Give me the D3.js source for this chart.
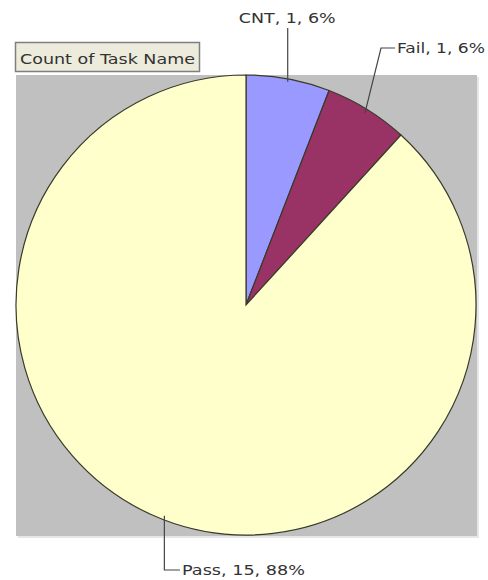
<!DOCTYPE html>
<html><head><meta charset="utf-8">
<script src="https://cdn.jsdelivr.net/npm/d3@7"></script>
<style>body{margin:0;background:#fff}svg{display:block}</style>
</head><body>
<svg id="c" width="488" height="580"></svg>
<script>
const categories = ["CNT", "Fail", "Pass"];
const values = [1, 1, 15];
const percentLabels = ["6%", "6%", "88%"];
const colors = ["#9999ff", "#993366", "#ffffcc"];
const legendTitle = "Count of Task Name";

const svg = d3.select("#c");
const font = "'DejaVu Sans', Verdana, sans-serif";

// plot area
svg.append("rect").attr("x", 18).attr("y", 77).attr("width", 461).attr("height", 461).attr("fill", "#e6e6e6");
svg.append("rect").attr("x", 16).attr("y", 75).attr("width", 461).attr("height", 461).attr("fill", "#c0c0c0");

// title box
svg.append("rect").attr("x", 15.5).attr("y", 42.5).attr("width", 184).attr("height", 29)
  .attr("fill", "#ecebdc").attr("stroke", "#7f7f7f").attr("stroke-width", 1.5);
svg.append("text").attr("x", 20).attr("y", 64).attr("font-family", font).attr("font-size", 14)
  .attr("fill", "#333").attr("textLength", 175).attr("lengthAdjust", "spacingAndGlyphs").text(legendTitle);

const cx = 246, cy = 305, R = 230;
const pie = d3.pie().sort(null).value(d => d)(values);
const arc = d3.arc().innerRadius(0).outerRadius(R);
const g = svg.append("g").attr("transform", `translate(${cx},${cy})`);
g.selectAll("path").data(pie).join("path")
  .attr("d", arc).attr("fill", (d, i) => colors[i])
  .attr("stroke", "#3a3a2a").attr("stroke-width", 1.2);

// labels with leader lines
const pt = (a, r) => [cx + r * Math.sin(a), cy - r * Math.cos(a)];
const mid = d => (d.startAngle + d.endAngle) / 2;
const labels = categories.map((c, i) => `${c}, ${values[i]}, ${percentLabels[i]}`);
const lines = svg.append("g").attr("fill", "none").attr("stroke", "#444").attr("stroke-width", 1.2);
const txt = svg.append("g").attr("font-family", font).attr("font-size", 14).attr("fill", "#333");

// CNT
{
  const p = pt(mid(pie[0]), R - 3);
  lines.append("path").attr("d", `M${p[0]},${p[1]}L${p[0]},28`);
  txt.append("text").attr("x", p[0] - 49).attr("y", 23)
    .attr("textLength", 97).attr("lengthAdjust", "spacingAndGlyphs").text(labels[0]);
}
// Fail
{
  const p = pt(mid(pie[1]), R - 4);
  lines.append("path").attr("d", `M${p[0]},${p[1]}L381,48L395,48`);
  txt.append("text").attr("x", 397).attr("y", 53)
    .attr("textLength", 88).attr("lengthAdjust", "spacingAndGlyphs").text(labels[1]);
}
// Pass
{
  const p = pt(mid(pie[2]), R - 4);
  lines.append("path").attr("d", `M${p[0]},${p[1]}L${p[0]},570L180,570`);
  txt.append("text").attr("x", 182).attr("y", 575)
    .attr("textLength", 123).attr("lengthAdjust", "spacingAndGlyphs").text(labels[2]);
}
</script>
</body></html>
